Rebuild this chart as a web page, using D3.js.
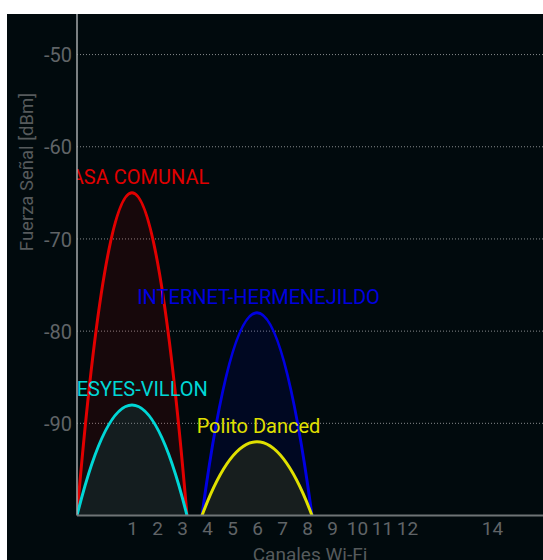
<!DOCTYPE html>
<html>
<head>
<meta charset="utf-8">
<script src="https://cdn.jsdelivr.net/npm/d3@7"></script>
<style>
  html, body { margin: 0; padding: 0; background: #ffffff; }
  svg { display: block; }
  text { font-family: Roboto, "Noto Sans", sans-serif; }
</style>
</head>
<body>
<svg id="chart" width="543" height="560"></svg>
<script>
// Wi-Fi networks seen on the 2.4 GHz band
const ssids     = ["CASA COMUNAL", "MESYES-VILLON", "INTERNET-HERMENEJILDO", "Polito Danced"];
const channels  = [1, 1, 6, 6];
const levels    = [-65, -88, -78, -92];          // dBm
const colors    = ["#e00000", "#00d6d6", "#0000e0", "#e0e000"];

// Channel axis
const channelTicks = [1, 2, 3, 4, 5, 6, 7, 8, 9, 10, 11, 12, 14];
const channelFreqs = [2412, 2417, 2422, 2427, 2432, 2437, 2442, 2447, 2452, 2457, 2462, 2467, 2484]; // MHz
const signalTicks  = [-50, -60, -70, -80, -90];

const halfSpread = 11;   // MHz on each side of the centre frequency
const floorLevel = -100;

const svg = d3.select("#chart");
const W = 543, H = 560;
const frame = { left: 7, top: 14 };
const plot = { left: 77, right: 542, top: 14, bottom: 515.5 };

svg.append("rect")
  .attr("x", frame.left).attr("y", frame.top)
  .attr("width", W - frame.left).attr("height", H - frame.top)
  .attr("fill", "#010a0d");

const x = d3.scaleLinear().domain([2401, 2494]).range([plot.left, plot.right]);
const y = d3.scaleLinear().domain([floorLevel, -45.6]).range([plot.bottom, plot.top]);

// dotted horizontal grid
svg.append("g")
  .selectAll("line")
  .data(signalTicks)
  .join("line")
  .attr("x1", plot.left).attr("x2", W)
  .attr("y1", d => y(d)).attr("y2", d => y(d))
  .attr("stroke", "#868a8c")
  .attr("stroke-width", 1)
  .attr("stroke-dasharray", "1,2");

// y axis labels (plain hyphen for negatives)
const yAxis = d3.axisLeft(y).tickValues(signalTicks).tickSize(0).tickPadding(5).tickFormat(d => String(d));
const gy = svg.append("g").attr("transform", `translate(${plot.left},0)`).call(yAxis);
gy.select(".domain").remove();
gy.selectAll("text")
  .attr("fill", "#606467")
  .style("font-size", "20px")
  .attr("dy", "0.36em");

svg.append("text")
  .attr("transform", `translate(33,172) rotate(-90)`)
  .attr("text-anchor", "middle")
  .attr("fill", "#565a5c")
  .style("font-size", "18.5px")
  .text("Fuerza Señal [dBm]");

// clipping region for the channel graphs
svg.append("clipPath").attr("id", "plotClip")
  .append("rect")
  .attr("x", plot.left).attr("y", plot.top)
  .attr("width", W - plot.left).attr("height", plot.bottom - plot.top);

const graphs = svg.append("g").attr("clip-path", "url(#plotClip)");

// each network as a parabolic arch: quadratic Bezier from floor to floor
function archPath(freq, level) {
  const p = d3.path();
  const x0 = x(freq - halfSpread), x1 = x(freq + halfSpread);
  const ctrlY = y(2 * level - floorLevel);
  p.moveTo(x0, y(floorLevel));
  p.quadraticCurveTo(x(freq), ctrlY, x1, y(floorLevel));
  return p.toString();
}

const nets = ssids.map((s, i) => ({
  ssid: s,
  freq: channelFreqs[channelTicks.indexOf(channels[i])],
  level: levels[i],
  color: colors[i]
}));

nets.forEach(n => {
  graphs.append("path")
    .attr("d", archPath(n.freq, n.level))
    .attr("fill", n.color)
    .attr("fill-opacity", 0.1)
    .attr("stroke", "none");
  graphs.append("path")
    .attr("d", archPath(n.freq, n.level))
    .attr("fill", "none")
    .attr("stroke", n.color)
    .attr("stroke-width", 3);
});

nets.forEach(n => {
  graphs.append("text")
    .attr("x", x(n.freq) + 1.5)
    .attr("y", y(n.level) - 9)
    .attr("text-anchor", "middle")
    .attr("fill", n.color)
    .style("font-size", "20px")
    .text(n.ssid);
});

// axis lines
svg.append("line")
  .attr("x1", plot.left).attr("x2", plot.left)
  .attr("y1", plot.top).attr("y2", plot.bottom)
  .attr("stroke", "#a5a8aa").attr("stroke-width", 1.5);

const xAxis = d3.axisBottom(x)
  .tickValues(channelFreqs)
  .tickSize(0)
  .tickPadding(6)
  .tickFormat(f => channelTicks[channelFreqs.indexOf(f)]);
const gx = svg.append("g").attr("transform", `translate(0,${plot.bottom})`).call(xAxis);
gx.select(".domain").remove();
gx.selectAll("text")
  .attr("fill", "#606467")
  .style("font-size", "19px")
  .attr("dy", "0.72em");

svg.append("line")
  .attr("x1", plot.left).attr("x2", W)
  .attr("y1", plot.bottom).attr("y2", plot.bottom)
  .attr("stroke", "#6f7476").attr("stroke-width", 2);

svg.append("text")
  .attr("x", 310)
  .attr("y", 561)
  .attr("text-anchor", "middle")
  .attr("fill", "#565a5c")
  .style("font-size", "19px")
  .text("Canales Wi-Fi");
</script>
</body>
</html>
